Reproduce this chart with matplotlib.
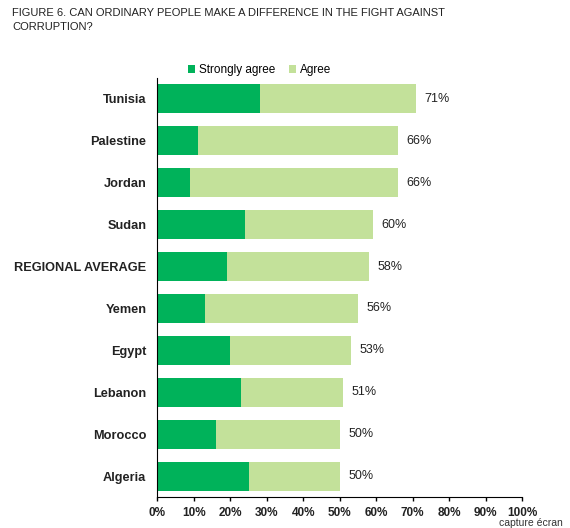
import numpy as np
import matplotlib.pyplot as plt

plt.rcParams['font.family'] = ['Liberation Sans', 'DejaVu Sans']

# data, top to bottom as in the figure
countries = ['Tunisia', 'Palestine', 'Jordan', 'Sudan', 'REGIONAL AVERAGE',
             'Yemen', 'Egypt', 'Lebanon', 'Morocco', 'Algeria']
strongly_agree = [28, 11, 9, 24, 19, 13, 20, 23, 16, 25]
agree = [43, 55, 57, 35, 39, 42, 33, 28, 34, 25]
total_labels = ['71%', '66%', '66%', '60%', '58%', '56%', '53%', '51%', '50%', '50%']

dark = '#00b25a'
light = '#c3e19a'

fig = plt.figure(figsize=(5.7, 5.28), dpi=100)
ax = fig.add_axes([0.2763, 0.0587, 0.6395, 0.7936])

y = np.arange(len(countries))
ax.barh(y, strongly_agree, height=0.69, color=dark, label='Strongly agree')
ax.barh(y, agree, left=strongly_agree, height=0.69, color=light, label='Agree')

for i in range(len(countries)):
    end = strongly_agree[i] + agree[i]
    ax.text(end + 2.3, y[i], total_labels[i], va='center', ha='left',
            fontsize=9, color='#222222')

ax.set_ylim(len(countries) - 0.5, -0.5)
ax.set_xlim(0, 100)
ax.set_xticks(np.arange(0, 101, 10))
ax.set_xticklabels([f'{v}%' for v in range(0, 101, 10)], fontsize=8.5,
                   fontweight='bold', color='#222222')
ax.set_yticks(y)
ax.set_yticklabels(countries, fontsize=9.2, fontweight='bold', color='#222222')
ax.tick_params(axis='y', length=0, pad=8)
ax.tick_params(axis='x', length=3, width=1, direction='out', pad=4.5)
ax.spines['top'].set_visible(False)
ax.spines['right'].set_visible(False)
ax.spines['left'].set_color('black')
ax.spines['bottom'].set_color('black')

ax.legend(loc='lower center', bbox_to_anchor=(0.28, 0.987), ncol=2, frameon=False,
          fontsize=8.5, handlelength=0.6, handleheight=0.6, handletextpad=0.4,
          columnspacing=1.1, borderaxespad=0.2)

fig.text(0.021, 0.985, 'FIGURE 6. CAN ORDINARY PEOPLE MAKE A DIFFERENCE IN THE FIGHT AGAINST\nCORRUPTION?',
         ha='left', va='top', fontsize=8.0, color='#222222', linespacing=1.5)
fig.text(0.988, 0.0, 'capture écran', ha='right', va='bottom', fontsize=7.5, color='#333333')

fig.savefig('out.png', dpi=100)
